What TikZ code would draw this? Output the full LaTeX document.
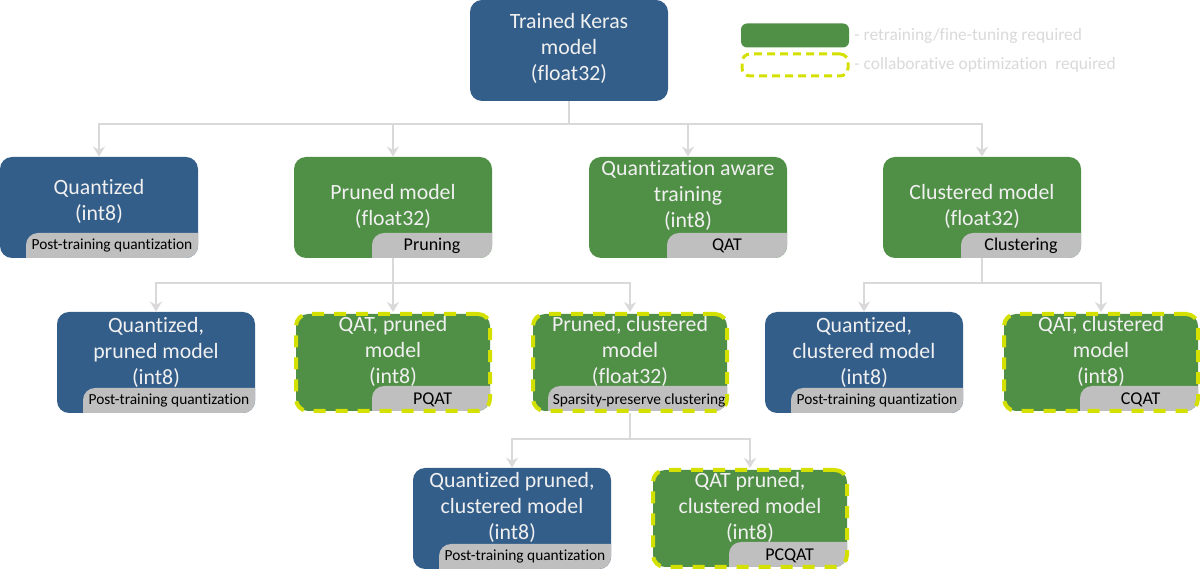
\documentclass[tikz,border=0pt]{standalone}
\usepackage{fontspec}
\setmainfont{Carlito}[Ligatures=NoCommon]
\usetikzlibrary{arrows.meta}
\definecolor{kerasBlue}{RGB}{52,94,138}
\definecolor{kerasGreen}{RGB}{80,143,70}
\definecolor{tagGray}{RGB}{191,191,191}
\definecolor{lineGray}{RGB}{217,217,217}
\definecolor{collabLime}{RGB}{212,224,0}
\tikzset{%
  box/.style={rounded corners=6pt, minimum width=99pt, minimum height=50.5pt, inner sep=0pt},%
  bluebox/.style={box, fill=kerasBlue},%
  greenbox/.style={box, fill=kerasGreen},%
  collabbox/.style={box, fill=kerasGreen, draw=collabLime, line width=2pt, dash pattern=on 6pt off 5pt, minimum width=97pt, minimum height=48.5pt},%
  tagged/.style={path picture={\fill[tagGray, rounded corners=6pt] ([xshift=-#1, yshift=12.5pt]path picture bounding box.south east) rectangle ([xshift=10pt, yshift=-10pt]path picture bounding box.south east);}},%
  tagtext/.style={anchor=south east, minimum height=12.5pt, inner sep=0pt, font=\fontsize{7.7}{9}\selectfont},%
  shorttag/.style={tagtext, font=\fontsize{9}{10}\selectfont},%
  boxtext/.style={align=center, text=white!94!black, font=\fontsize{10.9}{13}\selectfont},%
  legendtext/.style={anchor=west, text=lineGray, inner sep=0pt, font=\fontsize{8.7}{10}\selectfont},%
  conn/.style={draw=lineGray, line width=1pt, -{Stealth[length=5pt, width=6pt]}},%
}
\begin{document}
\begin{tikzpicture}[x=0.5pt, y=-0.5pt]%
  \useasboundingbox (0,0) rectangle (1200,571);%
  % top
  \node[bluebox] (keras) at (569,50.5) {};%
  \node[boxtext] (kerasText) at (569,48) {Trained Keras\\model\\(float32)};%
  % legend
  \node[greenbox, minimum width=54pt, minimum height=12pt, rounded corners=3pt] (legRetrain) at (795,35.5) {};%
  \node[draw=collabLime, line width=1.5pt, dash pattern=on 4pt off 2.5pt, rounded corners=4pt, minimum width=53pt, minimum height=11pt, inner sep=0pt] (legCollab) at (795,65) {};%
  \node[legendtext] (legRetrainText) at (854,35.5) {- retraining/fine-tuning required};%
  \node[legendtext] (legCollabText) at (854,65) {- collaborative optimization\ \ required};%
  % first row
  \node[bluebox, tagged=86pt] (quant) at (99,207.5) {};%
  \node[boxtext] (quantText) at (99,201) {Quantized\\(int8)};%
  \node[tagtext, minimum width=86pt] (quantTag) at (quant.south east) {Post-training quantization};%
  \node[greenbox, tagged=60pt] (prune) at (393,207.5) {};%
  \node[boxtext] (pruneText) at (393,206) {Pruned model\\(float32)};%
  \node[shorttag, minimum width=60pt] (pruneTag) at (prune.south east) {Pruning};%
  \node[greenbox, tagged=60pt] (qat) at (688,207.5) {};%
  \node[boxtext] (qatText) at (688,196) {Quantization aware\\training\\(int8)};%
  \node[shorttag, minimum width=60pt] (qatTag) at (qat.south east) {QAT};%
  \node[greenbox, tagged=60pt] (clust) at (982,207.5) {};%
  \node[boxtext] (clustText) at (982,206) {Clustered model\\(float32)};%
  \node[shorttag, minimum width=60pt] (clustTag) at (clust.south east) {Clustering};%
  % second row
  \node[bluebox, tagged=86pt] (qprune) at (156,362.5) {};%
  \node[boxtext] (qpruneText) at (156,352) {Quantized,\\pruned model\\(int8)};%
  \node[tagtext, minimum width=86pt] (qpruneTag) at (qprune.south east) {Post-training quantization};%
  \node[collabbox, tagged=59pt] (pqat) at (393,362.5) {};%
  \node[boxtext] (pqatText) at (393,351) {QAT, pruned\\model\\(int8)};%
  \node[shorttag, minimum width=59pt] (pqatTag) at (pqat.south east) {PQAT};%
  \node[collabbox, tagged=89.5pt] (pclust) at (630,362.5) {};%
  \node[boxtext] (pclustText) at (630,351) {Pruned, clustered\\model\\(float32)};%
  \node[tagtext, minimum width=89.5pt] (pclustTag) at (pclust.south east) {Sparsity-preserve clustering};%
  \node[bluebox, tagged=86pt] (qclust) at (864,362.5) {};%
  \node[boxtext] (qclustText) at (864,352) {Quantized,\\clustered model\\(int8)};%
  \node[tagtext, minimum width=86pt] (qclustTag) at (qclust.south east) {Post-training quantization};%
  \node[collabbox, tagged=59pt] (cqat) at (1101,362.5) {};%
  \node[boxtext] (cqatText) at (1101,351) {QAT, clustered\\model\\(int8)};%
  \node[shorttag, minimum width=59pt] (cqatTag) at (cqat.south east) {CQAT};%
  % third row
  \node[bluebox, tagged=86pt] (qpclust) at (512,518.5) {};%
  \node[boxtext] (qpclustText) at (512,507) {Quantized pruned,\\clustered model\\(int8)};%
  \node[tagtext, minimum width=86pt] (qpclustTag) at (qpclust.south east) {Post-training quantization};%
  \node[collabbox, tagged=59pt] (pcqat) at (750,518.5) {};%
  \node[boxtext] (pcqatText) at (750,507) {QAT pruned,\\clustered model\\(int8)};%
  \node[shorttag, minimum width=59pt] (pcqatTag) at (pcqat.south east) {PCQAT};%
  % connectors
  \draw[conn] (keras.south) -- ++(0,23) -| (quant.north);%
  \draw[conn] (keras.south) -- ++(0,23) -| (prune.north);%
  \draw[conn] (keras.south) -- ++(0,23) -| (qat.north);%
  \draw[conn] (keras.south) -- ++(0,23) -| (clust.north);%
  \draw[conn] (prune.south) -- ++(0,25) -| (qprune.north);%
  \draw[conn] (prune.south) -- ++(0,25) -| (pqat.north);%
  \draw[conn] (prune.south) -- ++(0,25) -| (pclust.north);%
  \draw[conn] (clust.south) -- ++(0,25) -| (qclust.north);%
  \draw[conn] (clust.south) -- ++(0,25) -| (cqat.north);%
  \draw[conn] (pclust.south) -- ++(0,26) -| (qpclust.north);%
  \draw[conn] (pclust.south) -- ++(0,26) -| (pcqat.north);%
\end{tikzpicture}
\end{document}
